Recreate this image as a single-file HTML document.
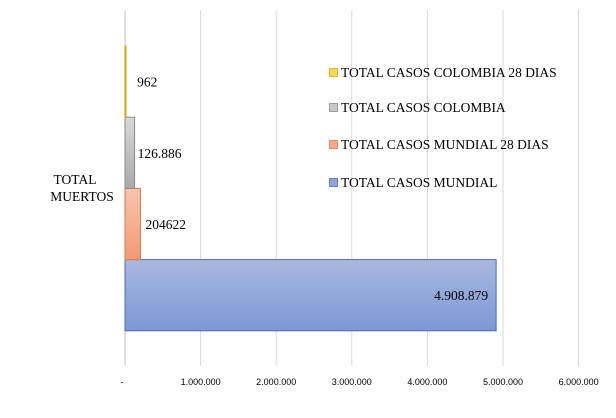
<!DOCTYPE html>
<html><head><meta charset="utf-8"><style>
body{margin:0;background:#fff;}
svg{display:block;}
.s{font-family:"Liberation Serif",serif;font-size:13.5px;fill:#000;}
.t{font-family:"Liberation Sans",sans-serif;font-size:9px;fill:#000;}
</style></head><body>
<svg id="c" width="616" height="418">
<defs>
<linearGradient id="gb" x1="0" y1="0" x2="0" y2="1"><stop offset="0" stop-color="#a9b8e0"/><stop offset="1" stop-color="#7d98d6"/></linearGradient>
<linearGradient id="go" x1="0" y1="0" x2="0" y2="1"><stop offset="0" stop-color="#f6c4ae"/><stop offset="1" stop-color="#f29a74"/></linearGradient>
<linearGradient id="gg" x1="0" y1="0" x2="0" y2="1"><stop offset="0" stop-color="#d9d9d9"/><stop offset="1" stop-color="#a9a9a9"/></linearGradient>
<linearGradient id="gy" x1="0" y1="0" x2="0" y2="1"><stop offset="0" stop-color="#ffe08a"/><stop offset="1" stop-color="#f0b800"/></linearGradient>
</defs>
<g id="grid"></g><g id="bars"></g><g id="legend"></g>
<text class="s" x="75" y="184" text-anchor="middle">TOTAL</text>
<text class="s" x="82" y="201" text-anchor="middle">MUERTOS</text>
</svg>
<script>
const series=["TOTAL CASOS MUNDIAL","TOTAL CASOS MUNDIAL 28 DIAS","TOTAL CASOS COLOMBIA","TOTAL CASOS COLOMBIA 28 DIAS"];
const values=[4908879,204622,126886,962];
const valueLabels=["4.908.879","204622","126.886","962"];
const ticks=[0,1000000,2000000,3000000,4000000,5000000,6000000];
const tickLabels=["-","1.000.000","2.000.000","3.000.000","4.000.000","5.000.000","6.000.000"];
const fills=["url(#gb)","url(#go)","url(#gg)","url(#gy)"];
const strokes=["#4a6bb8","#e07a4a","#8a8a8a","#d6a800"];
const legendFill=["#8ea4dc","#f4a988","#c8c8c8","#ffd65a"];
const ns="http://www.w3.org/2000/svg";
const x0=125,x1=578.6,xmax=6000000,yTop=10,yBot=366,barTop=46,barH=71.2;
const X=v=>x0+(v/xmax)*(x1-x0);
const labelOff=[-8,5,3,12];
function mk(t,a,p){const e=document.createElementNS(ns,t);for(const k in a)e.setAttribute(k,a[k]);p.appendChild(e);return e;}
const g=document.getElementById('grid');
ticks.forEach((v,i)=>{
 const l=mk('line',{x1:X(v),x2:X(v),y1:yTop,y2:yBot,stroke:i==0?'#bfbfbf':'#d9d9d9','stroke-width':1},g);
 
 
 const t=mk('text',{x:X(v)-(i==0?3:0),y:385,'text-anchor':'middle',class:'t'},g);
 t.textContent=tickLabels[i];
 
 
});
const b=document.getElementById('bars');
values.forEach((v,i)=>{
 const y=barTop+(3-i)*barH;
 const w=Math.max(X(v)-x0,1);
 const r=mk('rect',{x:x0,y:y,width:w,height:barH,fill:fills[i],stroke:strokes[i],'stroke-width':1},b);
 
 
 const t=mk('text',{class:'s',x:X(v)+labelOff[i],y:y+barH/2+5},b);
 if(i==0)t.setAttribute('text-anchor','end');
 t.textContent=valueLabels[i];
 
 
});
const lg=document.getElementById('legend');
const ly=[187,149,112,77];
series.forEach((s,i)=>{
 const r=mk('rect',{x:329.5,y:ly[i]-8.5,width:8,height:8,fill:legendFill[i],stroke:strokes[i],'stroke-width':0.8},lg);
 
 
 const t=mk('text',{x:341,y:ly[i],class:'s'},lg);
 t.textContent=s;
 
 
});
</script>
</body></html>
